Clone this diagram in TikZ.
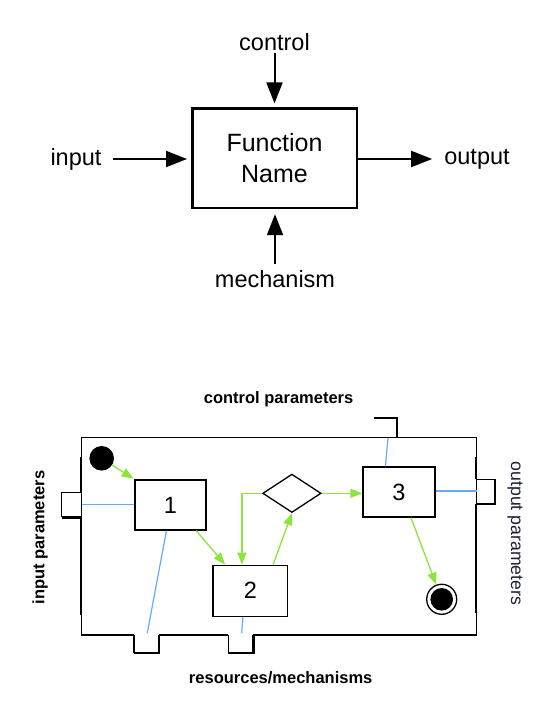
\documentclass[tikz,border=0pt]{standalone}
\usepackage{fontspec}
\setmainfont{Liberation Sans}
\usetikzlibrary{arrows.meta,shapes.geometric}
\definecolor{flowgreen}{RGB}{140,228,60}
\definecolor{linkblue}{RGB}{100,170,255}
\definecolor{navytext}{RGB}{30,30,60}
\begin{document}
\begin{tikzpicture}[x=1pt,y=-1pt,
  lbl/.style={font=\fontsize{23.5}{28}\selectfont, inner sep=0pt},
  fnbox/.style={draw, line width=2.5pt, minimum width=164.5pt, minimum height=99.3pt, inner sep=0pt,
     font=\fontsize{25}{31.3}\selectfont, align=center},
  bigarrow/.style={line width=2pt, -{Triangle[length=21pt,width=16pt]}},
  blbl/.style={font=\fontsize{16.5}{20}\selectfont\bfseries, inner sep=0pt},
  olbl/.style={font=\fontsize{17.7}{20}\selectfont, inner sep=0pt, text=navytext},
  stepbox/.style={draw, line width=1.3pt, inner sep=0pt, font=\fontsize{23.5}{28}\selectfont},
  flow/.style={draw=flowgreen, line width=1.3pt, -{Triangle[length=12pt,width=9pt]}},
  link/.style={draw=linkblue, line width=1.2pt},
  frame/.style={line width=1.1pt},
  shadowline/.style={line width=2.4pt},
]
\useasboundingbox (0,0) rectangle (532,708);

% ---------- top diagram ----------
\node[fnbox] (fn) at (274.5,158.3) {Function\\Name};
\node[lbl] (ctl) at (274.5,42.5) {control};
\node[lbl] (in) at (76,159) {input};
\node[lbl] (out) at (477,159) {output};
\node[lbl] (mech) at (275,278.6) {mechanism};

\draw[bigarrow, shorten <=1.5pt, shorten >=4pt] (ctl) -- (ctl |- fn.north);
\draw[bigarrow, shorten <=11pt, shorten >=4pt] (in) -- (in -| fn.west);
\draw[bigarrow, shorten >=12pt] (fn.east |- out) -- (out);
\draw[bigarrow, shorten <=6pt, shorten >=5pt] (mech) -- (mech |- fn.south);

% ---------- bottom diagram: frame ----------
\node[blbl] (cp) at (278.6,399.4) {control parameters};
\node[blbl] (rm) at (280.7,678) {resources/mechanisms};
\node[blbl, rotate=90] (ip) at (40,537.5) {input parameters};
\node[olbl, rotate=-90] (op) at (515,533.5) {output parameters};

\draw[frame] (134,635) -- (81.7,635) -- (81.7,437.8) -- (476.7,437.8) -- (476.7,635) -- (253.3,635);
\draw[frame] (228.3,635) -- (159,635);
% shadows of frame sides
\draw[shadowline] (81.2,457) -- (81.2,492.7);
\draw[shadowline] (81.2,517.3) -- (81.2,615);
\draw[shadowline] (476.2,457) -- (476.2,479.3);
\draw[shadowline] (476.2,504) -- (476.2,613);
% control bracket
\draw[line width=2pt] (373.8,418.4) -- (397,418.4) -- (397,437.8);
% left port
\draw[frame] (81.7,492.7) -- (61.7,492.7) -- (61.7,517.3);
\draw[shadowline] (61.7,517.3) -- (81.7,517.3);
% right port
\draw[frame] (476.7,479.3) -- (495,479.3);
\draw[shadowline] (495,479.3) -- (495,504) -- (476.7,504);
% bottom ports
\draw[frame] (134,635) -- (134,652.7);
\draw[shadowline] (134,652.7) -- (159,652.7) -- (159,635);
\draw[frame] (228.3,635) -- (228.3,652.7);
\draw[shadowline] (228.3,652.7) -- (253.3,652.7) -- (253.3,635);

% port coordinates
\coordinate (lp) at (81.7,504.3);
\coordinate (rp) at (476.7,491);
\coordinate (bp1) at (147.3,633);
\coordinate (bp2) at (241.7,633);
\coordinate (cpt) at (388,437.8);

% ---------- inner nodes ----------
\node[circle, fill=black, minimum size=24.6pt, inner sep=0pt] (start) at (101.7,458.3) {};
\node[stepbox, minimum width=71pt, minimum height=50pt] (b1) at (170.5,505) {1};
\node[stepbox, minimum width=74.8pt, minimum height=51pt] (b2) at (250.4,590.7) {2};
\node[stepbox, minimum width=72pt, minimum height=50pt] (b3) at (399,492) {3};
\node[diamond, draw, line width=1.3pt, inner sep=0pt, minimum width=58.4pt, minimum height=38.4pt, aspect=1.52] (dia) at (291.9,493.3) {};
\node[circle, draw, line width=1.3pt, minimum size=30pt, inner sep=0pt] (end) at (441.7,599.3) {};
\fill (end.center) circle (11.3pt);

% blue links
\draw[link] (lp) -- (lp -| b1.west);
\draw[link] (b1.-99) -- (bp1);
\draw[link] (b2.-106) -- (bp2);
\draw[link] (cpt) -- (b3.118);
\draw[link] (rp -| b3.east) -- (rp);

% green flows
\draw[flow, shorten >=1pt] (start) -- (b1.north west);
\draw[flow] (b1.-45) -- (b2.134);
\draw[flow] (dia.west) -| (b2.108);
\draw[flow] (b2.49) -- (dia.south);
\draw[flow] (dia.east) -- (dia.east -| b3.west);
\draw[flow] (b3.-65) -- (end);
\end{tikzpicture}
\end{document}
